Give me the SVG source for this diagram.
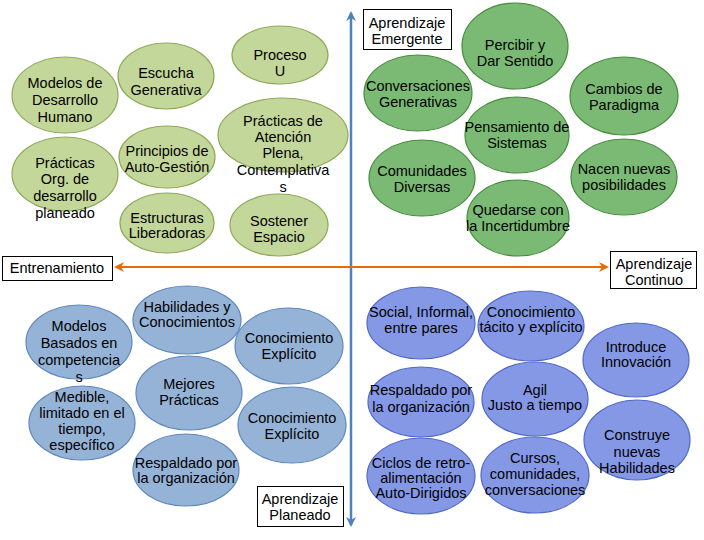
<svg xmlns="http://www.w3.org/2000/svg" width="704" height="540" viewBox="0 0 704 540">
<style>
text{font-family:"Liberation Sans",Arial,sans-serif;font-size:14.5px;fill:#000;text-anchor:middle}
.tl{fill:#C4D79B;stroke:#8EA957;stroke-width:1.2}
.tr{fill:#7ABA74;stroke:#468C3B;stroke-width:1.2}
.bl{fill:#95B3D7;stroke:#5F87BE;stroke-width:1.2}
.br{fill:#8498E6;stroke:#5268C8;stroke-width:1.2}
.box{fill:#fff;stroke:#000;stroke-width:1}
.vax{stroke:#4F81BD;stroke-width:2.5;fill:none}
.hax{stroke:#E46C0A;stroke-width:2;fill:none}
</style>
<defs>
<marker id="ab" viewBox="0 0 10 10" refX="8" refY="5" markerWidth="4" markerHeight="4" orient="auto-start-reverse" markerUnits="strokeWidth">
<path d="M0,0 L10,5 L0,10 L3,5 Z" fill="#4F81BD"/>
</marker>
<marker id="ao" viewBox="0 0 10 10" refX="8" refY="5" markerWidth="5" markerHeight="5" orient="auto-start-reverse" markerUnits="strokeWidth">
<path d="M0,0 L10,5 L0,10 L3,5 Z" fill="#E46C0A"/>
</marker>
</defs>
<rect width="704" height="540" fill="#fff"/>
<g id="connectors">
<line class="vax" x1="351" y1="525" x2="351" y2="13" marker-start="url(#ab)" marker-end="url(#ab)"/>
<line class="hax" x1="116" y1="267" x2="607" y2="267" marker-start="url(#ao)" marker-end="url(#ao)"/>
</g>
<g id="box-entrenamiento"><rect class="box" x="2.5" y="256.5" width="110" height="24"/><text x="57" y="273">Entrenamiento</text></g>
<g id="box-continuo"><rect class="box" x="610.5" y="251.5" width="86" height="37"/><text x="654" y="269">Aprendizaje</text><text x="654" y="285">Continuo</text></g>
<g id="box-emergente"><rect class="box" x="363.5" y="9.5" width="88" height="40"/><text x="407" y="28">Aprendizaje</text><text x="407" y="44">Emergente</text></g>
<g id="box-planeado"><rect class="box" x="257.5" y="486.5" width="86" height="40"/><text x="300" y="504">Aprendizaje</text><text x="300" y="520">Planeado</text></g>

<g id="n1"><ellipse class="tl" cx="65" cy="95" rx="53" ry="38"/><text x="65" y="88">Modelos de</text><text x="65" y="105">Desarrollo</text><text x="65" y="122">Humano</text></g>
<g id="n2"><ellipse class="tl" cx="166" cy="76" rx="48" ry="33"/><text x="166" y="78">Escucha</text><text x="166" y="95">Generativa</text></g>
<g id="n3"><ellipse class="tl" cx="280" cy="55" rx="48" ry="29"/><text x="280" y="60">Proceso</text><text x="280" y="76">U</text></g>
<g id="n4"><ellipse class="tl" cx="283" cy="135" rx="65" ry="37"/><text x="283" y="126">Prácticas de</text><text x="283" y="142">Atención</text><text x="283" y="158">Plena,</text><text x="283" y="175">Contemplativa</text><text x="283" y="192">s</text></g>
<g id="n5"><ellipse class="tl" cx="167" cy="157" rx="48" ry="31"/><text x="167" y="156">Principios de</text><text x="167" y="172">Auto-Gestión</text></g>
<g id="n6"><ellipse class="tl" cx="65" cy="174" rx="53" ry="37"/><text x="65" y="168">Prácticas</text><text x="65" y="184">Org. de</text><text x="65" y="201">desarrollo</text><text x="65" y="218">planeado</text></g>
<g id="n7"><ellipse class="tl" cx="167" cy="223" rx="47" ry="30"/><text x="167" y="223">Estructuras</text><text x="167" y="238">Liberadoras</text></g>
<g id="n8"><ellipse class="tl" cx="279" cy="225" rx="49" ry="31"/><text x="279" y="226">Sostener</text><text x="279" y="242">Espacio</text></g>

<g id="n9"><ellipse class="tr" cx="515" cy="46" rx="53" ry="43"/><text x="515" y="50">Percibir y</text><text x="515" y="66">Dar Sentido</text></g>
<g id="n10"><ellipse class="tr" cx="418" cy="93" rx="54" ry="38"/><text x="418" y="91">Conversaciones</text><text x="418" y="107">Generativas</text></g>
<g id="n11"><ellipse class="tr" cx="624" cy="96" rx="54" ry="39"/><text x="624" y="94">Cambios de</text><text x="624" y="110">Paradigma</text></g>
<g id="n12"><ellipse class="tr" cx="517" cy="135" rx="52" ry="38"/><text x="517" y="132">Pensamiento de</text><text x="517" y="148">Sistemas</text></g>
<g id="n13"><ellipse class="tr" cx="422" cy="178" rx="53" ry="38"/><text x="422" y="176">Comunidades</text><text x="422" y="192">Diversas</text></g>
<g id="n14"><ellipse class="tr" cx="624" cy="177" rx="53" ry="38"/><text x="624" y="174">Nacen nuevas</text><text x="624" y="190">posibilidades</text></g>
<g id="n15"><ellipse class="tr" cx="518" cy="218" rx="51" ry="38"/><text x="518" y="215">Quedarse con</text><text x="518" y="231">la Incertidumbre</text></g>

<g id="n16"><ellipse class="bl" cx="187" cy="320" rx="54" ry="34"/><text x="187" y="312">Habilidades y</text><text x="187" y="327">Conocimientos</text></g>
<g id="n17"><ellipse class="bl" cx="79" cy="342" rx="53" ry="37"/><text x="79" y="331">Modelos</text><text x="79" y="348">Basados en</text><text x="79" y="365">competencia</text><text x="79" y="382">s</text></g>
<g id="n18"><ellipse class="bl" cx="289" cy="346" rx="54" ry="38"/><text x="289" y="343">Conocimiento</text><text x="289" y="359">Explícito</text></g>
<g id="n19"><ellipse class="bl" cx="189" cy="393" rx="53" ry="37"/><text x="189" y="389">Mejores</text><text x="189" y="405">Prácticas</text></g>
<g id="n20"><ellipse class="bl" cx="82" cy="423" rx="53" ry="37"/><text x="82" y="402">Medible,</text><text x="82" y="418">limitado en el</text><text x="82" y="434">tiempo,</text><text x="82" y="450">específico</text></g>
<g id="n21"><ellipse class="bl" cx="292" cy="425" rx="54" ry="38"/><text x="292" y="423">Conocimiento</text><text x="292" y="439">Explícito</text></g>
<g id="n22"><ellipse class="bl" cx="186" cy="470" rx="53" ry="36"/><text x="186" y="468">Respaldado por</text><text x="186" y="483">la organización</text></g>

<g id="n23"><ellipse class="br" cx="421" cy="323" rx="54" ry="36"/><text x="421" y="317">Social, Informal,</text><text x="421" y="333">entre pares</text></g>
<g id="n24"><ellipse class="br" cx="531" cy="326" rx="53" ry="35"/><text x="531" y="317">Conocimiento</text><text x="531" y="332">tácito y explícito</text></g>
<g id="n25"><ellipse class="br" cx="636" cy="360" rx="53" ry="37"/><text x="636" y="352">Introduce</text><text x="636" y="367">Innovación</text></g>
<g id="n26"><ellipse class="br" cx="421" cy="402" rx="53" ry="35"/><text x="421" y="395">Respaldado por</text><text x="421" y="412">la organización</text></g>
<g id="n27"><ellipse class="br" cx="535" cy="399" rx="53" ry="37"/><text x="535" y="395">Agil</text><text x="535" y="410">Justo a tiempo</text></g>
<g id="n28"><ellipse class="br" cx="637" cy="440" rx="53" ry="40"/><text x="637" y="440">Construye</text><text x="637" y="457">nuevas</text><text x="637" y="473">Habilidades</text></g>
<g id="n29"><ellipse class="br" cx="421" cy="476" rx="54" ry="38"/><text x="421" y="468">Ciclos de retro-</text><text x="421" y="483">alimentación</text><text x="421" y="498">Auto-Dirigidos</text></g>
<g id="n30"><ellipse class="br" cx="535" cy="475" rx="54" ry="38"/><text x="535" y="463">Cursos,</text><text x="535" y="479">comunidades,</text><text x="535" y="495">conversaciones</text></g>
</svg>
